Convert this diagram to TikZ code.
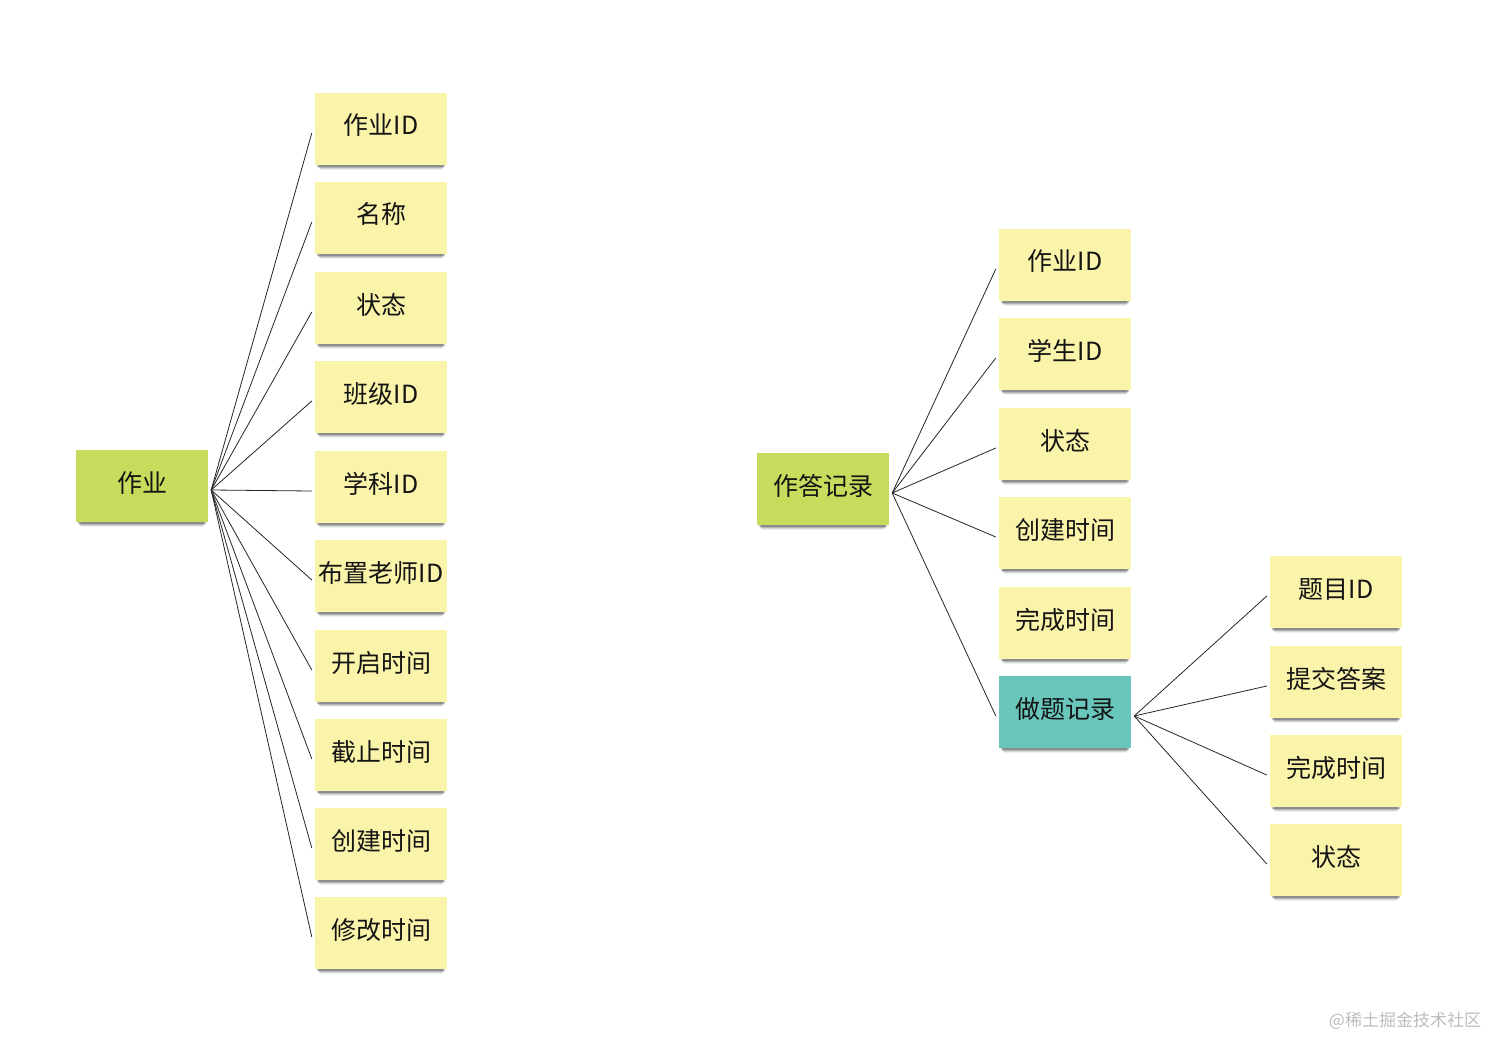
\documentclass[tikz,border=0pt]{standalone}
\usepackage{fontspec}
\setmainfont{Noto Sans CJK SC}
\usetikzlibrary{shadows}
\definecolor{noteY}{HTML}{FAF3AA}
\definecolor{noteG}{HTML}{C6DC5C}
\definecolor{noteT}{HTML}{68C6BB}
\definecolor{wm}{HTML}{BDBDBD}
\begin{document}
\begin{tikzpicture}[x=1pt,y=-1pt,
  note/.style={draw=none, fill=noteY, minimum width=132pt, minimum height=72pt, inner sep=0pt,
    text height=22pt, text depth=10pt,
    font=\fontsize{25}{28}\selectfont, text=black!92,
    drop shadow={shadow xshift=0pt, shadow yshift=-9pt, shadow scale=0.92, opacity=0.06, fill=black},
    drop shadow={shadow xshift=0pt, shadow yshift=-7pt, shadow scale=0.94, opacity=0.10, fill=black},
    drop shadow={shadow xshift=0pt, shadow yshift=-5pt, shadow scale=0.95, opacity=0.16, fill=black},
    drop shadow={shadow xshift=0pt, shadow yshift=-3pt, shadow scale=0.97, opacity=0.22, fill=black}},
  rootnote/.style={note, fill=noteG},
  tealnote/.style={note, fill=noteT},
  conn/.style={draw=black!85, line width=0.8pt}]
\useasboundingbox (0,0) rectangle (1512,1059);
\fill[white] (0,0) rectangle (1512,1059);

% left tree
\node[rootnote] (zy) at (142,486) {作业};
\node[note] (a1) at (381,129) {作业ID};
\node[note] (a2) at (381,218) {名称};
\node[note] (a3) at (381,308) {状态};
\node[note] (a4) at (381,397) {班级ID};
\node[note] (a5) at (381,487) {学科ID};
\node[note] (a6) at (381,576) {布置老师ID};
\node[note] (a7) at (381,666) {开启时间};
\node[note] (a8) at (381,755) {截止时间};
\node[note] (a9) at (381,844) {创建时间};
\node[note] (a10) at (381,933) {修改时间};
\coordinate (hA) at ([xshift=3pt,yshift=-4pt]zy.east);
\foreach \i in {1,...,10}{
  \draw[conn] (hA) -- ([xshift=-3pt,yshift=-4pt]a\i.west);
}

% right tree
\node[rootnote] (zd) at (823,489) {作答记录};
\node[note] (b1) at (1065,265) {作业ID};
\node[note] (b2) at (1065,354) {学生ID};
\node[note] (b3) at (1065,444) {状态};
\node[note] (b4) at (1065,533) {创建时间};
\node[note] (b5) at (1065,623) {完成时间};
\node[tealnote] (b6) at (1065,712) {做题记录};
\coordinate (hB) at ([xshift=3pt,yshift=-4pt]zd.east);
\foreach \i in {1,2,3,4,6}{
  \draw[conn] (hB) -- ([xshift=-3pt,yshift=-4pt]b\i.west);
}

\node[note] (c1) at (1336,592) {题目ID};
\node[note] (c2) at (1336,682) {提交答案};
\node[note] (c3) at (1336,771) {完成时间};
\node[note] (c4) at (1336,860) {状态};
\coordinate (hC) at ([xshift=3pt,yshift=-4pt]b6.east);
\foreach \i in {1,...,4}{
  \draw[conn] (hC) -- ([xshift=-3pt,yshift=-4pt]c\i.west);
}

\node[text=wm, font=\fontsize{17}{20}\selectfont] (wmk) at (1405,1021) {@稀土掘金技术社区};
\end{tikzpicture}
\end{document}
